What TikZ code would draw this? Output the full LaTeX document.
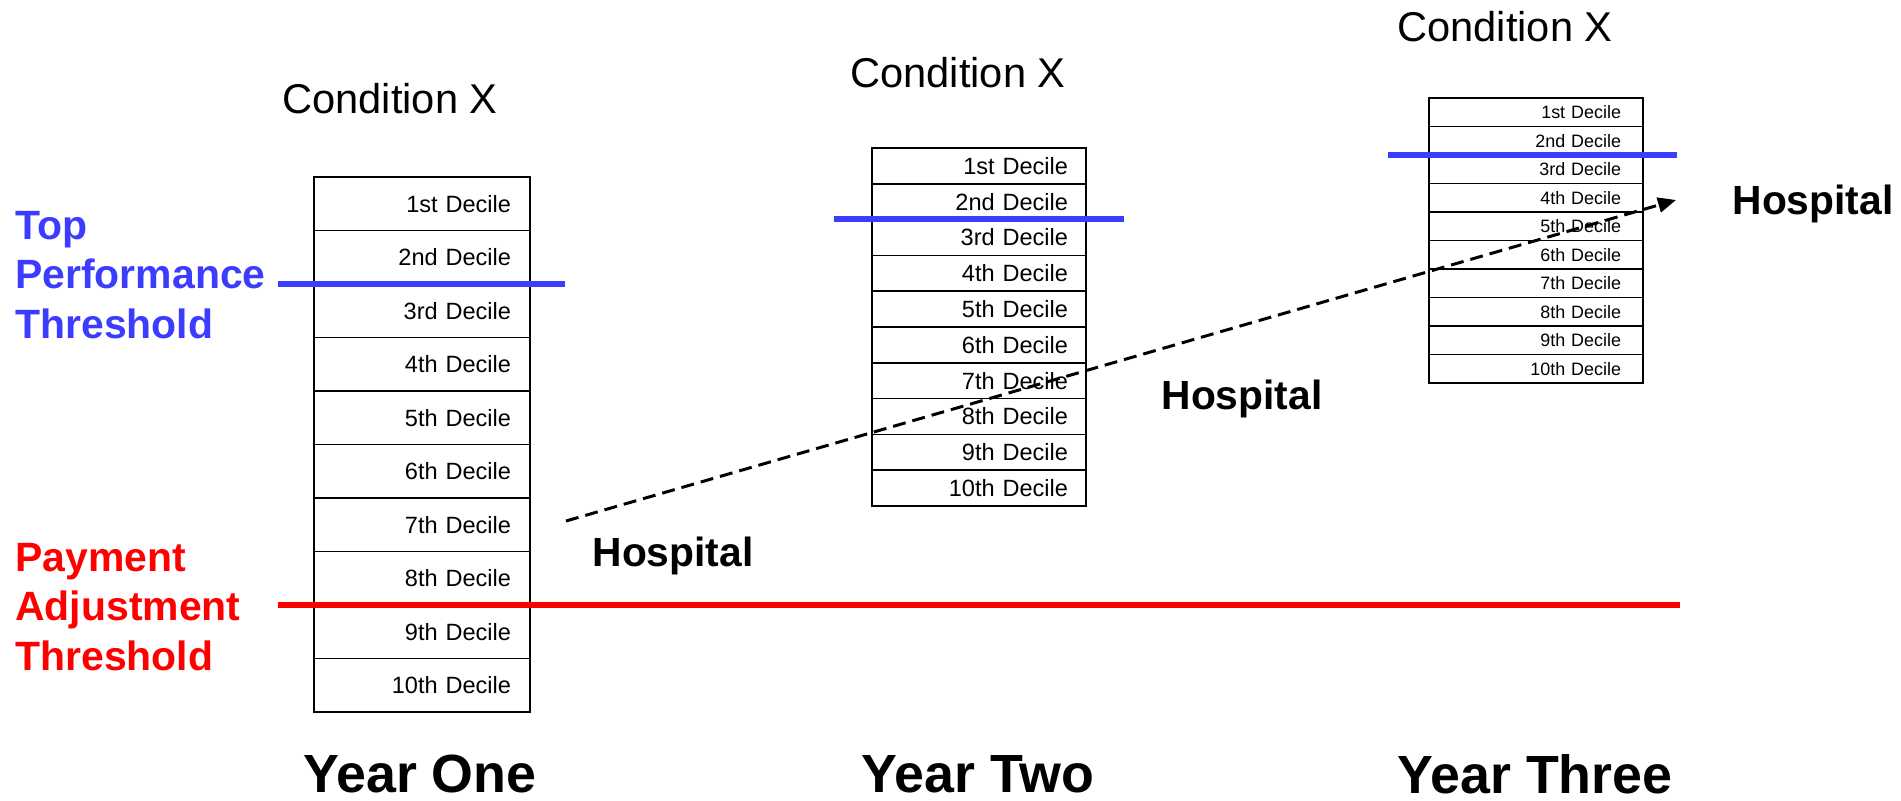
\documentclass[tikz,border=0pt]{standalone}
\usepackage{fontspec}
\setmainfont{Liberation Sans}
\usetikzlibrary{arrows.meta}
\definecolor{topblue}{RGB}{60,60,255}
\definecolor{payred}{RGB}{255,0,0}

\begin{document}
\begin{tikzpicture}[x=0.02cm,y=-0.02cm,
  cell/.style={draw, line width=0.9pt, inner ysep=0pt, align=right},
  condlab/.style={font=\fontsize{23.7}{28}\selectfont},
  yearlab/.style={font=\fontsize{30.6}{36}\selectfont\bfseries, inner sep=0pt},
  hosplab/.style={font=\fontsize{23.2}{27}\selectfont\bfseries},
  thrlab/.style={font=\fontsize{23.3}{28.2}\selectfont\bfseries, align=left, anchor=west, inner sep=0pt},
  thrline/.style={line width=3.4pt}]
  \useasboundingbox (0,0) rectangle (1901,801);

  % Decile boxes for the three years
  \foreach \k/\o in {1/st,2/nd,3/rd,4/th,5/th,6/th,7/th,8/th,9/th,10/th} {
    \node[cell, minimum width=4.32cm, minimum height=1.07cm, text width=3.56cm,
      font=\fontsize{13.4}{16}\selectfont] (a\k) at (422,{177+53.5*(\k-0.5)}) {\k\o{} Decile};
    \node[cell, minimum width=4.28cm, minimum height=0.716cm, text width=3.56cm,
      font=\fontsize{13.4}{16}\selectfont] (b\k) at (979,{148+35.8*(\k-0.5)}) {\k\o{} Decile};
    \node[cell, minimum width=4.28cm, minimum height=0.57cm, text width=3.4cm,
      font=\fontsize{10.2}{12}\selectfont] (c\k) at (1536,{98+28.5*(\k-0.5)}) {\k\o{} Decile};
  }

  % Titles over the boxes
  \node[condlab] (cond1) at (390,99) {Condition X};
  \node[condlab] (cond2) at (958,73) {Condition X};
  \node[condlab] (cond3) at (1505,27) {Condition X};

  % Years under the boxes
  \node[yearlab] (year1) at (420,774) {Year One};
  \node[yearlab] (year2) at (978,774) {Year Two};
  \node[yearlab] (year3) at (1535,774) {Year Three};

  % Threshold lines and labels
  \draw[thrline, topblue] (278,284) -- (565,284);
  \draw[thrline, topblue] (834,219) -- (1124,219);
  \draw[thrline, topblue] (1388,155) -- (1677,155);
  \draw[thrline, payred] (278,605) -- (1680,605);
  \node[thrlab, text=topblue] (top) at (15,275) {Top\\Performance\\Threshold};
  \node[thrlab, text=payred] (pay) at (15,607) {Payment\\Adjustment\\Threshold};

  % Hospital over the years
  \node[hosplab] (hosp1) at (673,556) {Hospital};
  \node[hosplab] (hosp2) at (1242,399) {Hospital};
  \node[hosplab] (hosp3) at (1813,204) {Hospital};
  \coordinate (start) at (566,521);
  \coordinate (end) at (1676,200);
  \draw[line width=1.7pt, dash pattern=on 7.4pt off 4pt,
    -{Triangle[length=0.36cm, width=0.3cm]}] (start) -- (end);
\end{tikzpicture}
\end{document}
